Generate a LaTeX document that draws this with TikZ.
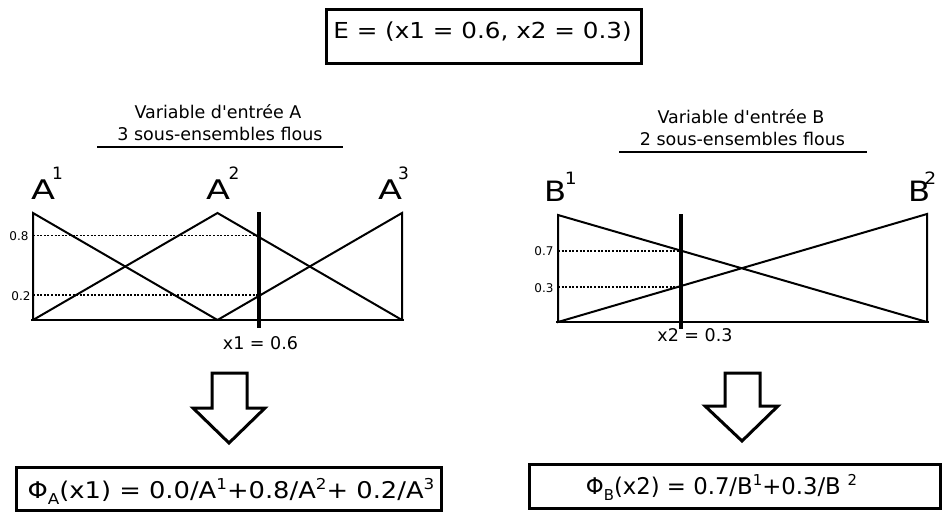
\documentclass[tikz,border=0pt]{standalone}
\usepackage{fontspec}
\setmainfont{DejaVu Sans}
\usepackage{graphicx}
\newcommand{\sx}[3]{\scalebox{#2}[1]{\fontsize{#1}{#1}\selectfont #3}}
\newcommand{\lowsub}[1]{\raisebox{-6pt}{\fontsize{15}{15}\selectfont #1}}
\newcommand{\hisup}[1]{\raisebox{9pt}{\fontsize{15}{15}\selectfont #1}}
\begin{document}
\begin{tikzpicture}[x=1pt,y=-1pt,
 frame/.style={draw, line width=3pt, inner sep=0pt},
 lbl/.style={inner sep=0pt, anchor=base},
 axis/.style={line width=2pt, line join=miter},
 base/.style={line width=2.5pt},
 cut/.style={line width=4pt},
 guide/.style={line width=1.6pt, dash pattern=on 2pt off 1.6pt},
 uline/.style={line width=1.8pt},
 barrow/.style={draw, line width=3pt, line join=miter, fill=white},
 tick/.style={inner sep=0pt, font=\fontsize{12}{12}\selectfont}]
\useasboundingbox (0,0) rectangle (944,514);

% ---------- top box ----------
\node[frame, minimum width=315pt, minimum height=54pt] (Ebox) at (484,36.5) {};
\node[lbl] (E) at (482.5,38) {\sx{22}{1.12}{E = (x1 = 0.6, x2 = 0.3)}};

% ---------- panel A ----------
\node[lbl] (tA1) at (218,118) {\sx{17.5}{1}{Variable d\textquotesingle entrée A}};
\node[lbl] (tA2) at (220,140) {\sx{17.5}{1}{3 sous-ensembles flous}};
\coordinate (uA1) at (97,147); \coordinate (uA2) at (343,147);
\draw[uline] (uA1) -- (uA2);

\coordinate (a0) at (33,320); \coordinate (aT0) at (33,213);
\coordinate (aM) at (217.5,320); \coordinate (aMT) at (217.5,213);
\coordinate (aR) at (402,320); \coordinate (aRT) at (402,213);
\coordinate (aB1) at (31,320); \coordinate (aB2) at (404,320);
\draw[axis] (aM) -- (aT0) -- (a0);
\draw[axis] (a0) -- (aMT) -- (aR);
\draw[axis] (aM) -- (aRT) -- (aR);
\draw[base] (aB1) -- (aB2);

\coordinate (gA8) at (33,235.5); \coordinate (gA8e) at (259,235.5);
\coordinate (gA2) at (33,295); \coordinate (gA2e) at (259,295);
\draw[guide] (gA8) -- (gA8e);
\draw[guide] (gA2) -- (gA2e);
\coordinate (cA1) at (259,212); \coordinate (cA2) at (259,328);
\draw[cut] (cA1) -- (cA2);

\node[tick] (t08) at (19,236) {0.8};
\node[tick] (t02) at (21,296) {0.2};
\node[lbl] (x1) at (260.5,349) {\sx{17.5}{1}{x1 = 0.6}};

\node[lbl, anchor=base west] (A1) at (31,199) {\sx{27}{1.3}{A}\kern-3pt\raisebox{20pt}{\sx{17}{1}{1}}};
\node[lbl, anchor=base west] (A2) at (206,199) {\sx{27}{1.3}{A}\kern-1.5pt\raisebox{20pt}{\sx{17}{1}{2}}};
\node[lbl, anchor=base west] (A3) at (378,199) {\sx{27}{1.3}{A}\kern-4pt\raisebox{20pt}{\sx{17}{1}{3}}};

% ---------- panel B ----------
\node[lbl] (tB1) at (741,123) {\sx{17.5}{1}{Variable d\textquotesingle entrée B}};
\node[lbl] (tB2) at (742.5,145) {\sx{17.5}{1}{2 sous-ensembles flous}};
\coordinate (uB1) at (619,152); \coordinate (uB2) at (867,152);
\draw[uline] (uB1) -- (uB2);

\coordinate (b0) at (558,322); \coordinate (bT0) at (558,215);
\coordinate (bR) at (927,322); \coordinate (bRT) at (927,214);
\coordinate (bB1) at (556,322); \coordinate (bB2) at (929,322);
\draw[axis] (bR) -- (bT0) -- (b0) -- (bRT) -- (bR);
\draw[base] (bB1) -- (bB2);

\coordinate (gB7) at (558,251); \coordinate (gB7e) at (681,251);
\coordinate (gB3) at (558,287); \coordinate (gB3e) at (681,287);
\draw[guide] (gB7) -- (gB7e);
\draw[guide] (gB3) -- (gB3e);
\coordinate (cB1) at (681,214); \coordinate (cB2) at (681,329);
\draw[cut] (cB1) -- (cB2);

\node[tick] (t07) at (544,251) {0.7};
\node[tick] (t03) at (544,288) {0.3};
\node[lbl] (x2) at (695,341.5) {\sx{17.5}{1}{x2 = 0.3}};

\node[lbl, anchor=base west] (B1) at (544,201) {\sx{28}{1.15}{B}\kern-1.5pt\raisebox{17pt}{\sx{17}{1.1}{1}}};
\node[lbl, anchor=base west] (B2) at (908,201) {\sx{28}{1.15}{B}\kern-6pt\raisebox{17pt}{\sx{17}{1.1}{2}}};

% ---------- block arrows ----------
\draw[barrow] (212,373) -- (247,373) -- (247,408) -- (265,408) -- (229,443) -- (193,408) -- (212,408) -- cycle;
\draw[barrow] (725,373) -- (760,373) -- (760,406) -- (778,406) -- (742,441) -- (705,406) -- (725,406) -- cycle;

% ---------- bottom boxes ----------
\node[frame, minimum width=425pt, minimum height=43pt] (PAbox) at (229,489) {};
\node[lbl] (PA) at (231,498) {\sx{23}{1.12}{Φ\lowsub{A}(x1) = 0.0/A\hisup{1}+0.8/A\hisup{2}+ 0.2/A\hisup{3}}};
\node[frame, minimum width=411pt, minimum height=44pt] (PBbox) at (735,486.5) {};
\node[lbl] (PB) at (721.5,494) {\sx{23}{0.99}{Φ\lowsub{B}(x2) = 0.7/B\hisup{1}+0.3/B\hspace{0.3em}\hisup{2}}};
\end{tikzpicture}
\end{document}
